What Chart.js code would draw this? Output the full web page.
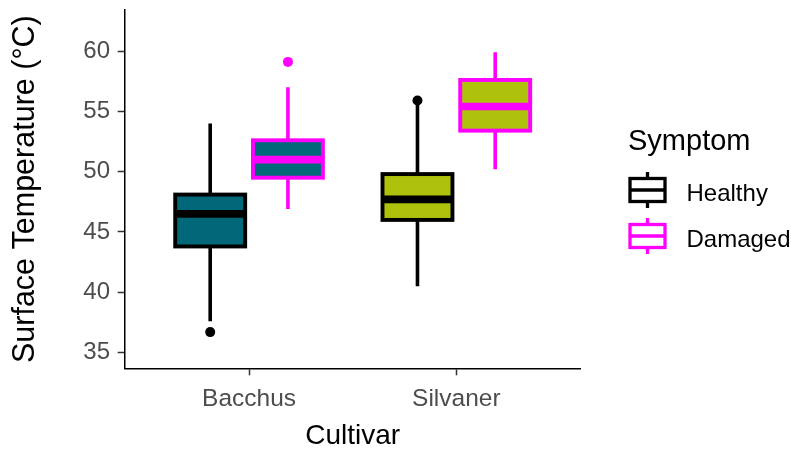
<!DOCTYPE html>
<html>
<head>
<meta charset="utf-8">
<script src="https://cdn.jsdelivr.net/npm/chart.js@4.4.1/dist/chart.umd.min.js"></script>
<style>
  html, body { margin: 0; padding: 0; background: #ffffff; }
  #wrap { width: 791px; height: 450px; }
</style>
</head>
<body>
<div id="wrap"><canvas id="c" width="791" height="450"></canvas></div>
<script>
// ---------- data ----------
const categories = ['Bacchus', 'Silvaner'];
const seriesNames = ['Healthy', 'Damaged'];
const yTicks = [35, 40, 45, 50, 55, 60];

const healthyLow  = [37.6, 40.5];
const healthyQ1   = [43.8, 46.0];
const healthyMed  = [46.5, 47.7];
const healthyQ3   = [48.1, 49.8];
const healthyHigh = [54.0, 55.6];
const healthyOut  = [[36.7], [55.9]];

const damagedLow  = [46.9, 50.2];
const damagedQ1   = [49.5, 53.4];
const damagedMed  = [51.0, 55.4];
const damagedQ3   = [52.6, 57.6];
const damagedHigh = [57.0, 59.9];
const damagedOut  = [[59.1], []];

// ---------- styles ----------
const cultivarFill = ['#006879', '#AEC10B'];
const seriesLine = ['#000000', '#FF00FF'];
const FONT = "'Liberation Sans', Arial, Helvetica, sans-serif";

function boxData(q1, q3) {
  return categories.map((c, i) => ({ x: i + 1, y: [q1[i], q3[i]] }));
}

const datasets = [
  { label: seriesNames[0], data: boxData(healthyQ1, healthyQ3),
    backgroundColor: cultivarFill, borderWidth: 0, lineColor: seriesLine[0],
    stats: { low: healthyLow, q1: healthyQ1, med: healthyMed, q3: healthyQ3, high: healthyHigh, out: healthyOut } },
  { label: seriesNames[1], data: boxData(damagedQ1, damagedQ3),
    backgroundColor: cultivarFill, borderWidth: 0, lineColor: seriesLine[1],
    stats: { low: damagedLow, q1: damagedQ1, med: damagedMed, q3: damagedQ3, high: damagedHigh, out: damagedOut } }
];

// ---------- boxplot decoration plugin (whiskers, outline, median, outliers) ----------
const boxPlugin = {
  id: 'boxDecor',
  afterDatasetsDraw(chart) {
    const ctx = chart.ctx;
    const ys = chart.scales.y;
    chart.data.datasets.forEach((ds, di) => {
      const meta = chart.getDatasetMeta(di);
      meta.data.forEach((el, i) => {
        const { x, width } = el.getProps(['x', 'width'], true);
        const st = ds.stats;
        const left = x - width / 2, right = x + width / 2;
        const yQ1 = ys.getPixelForValue(st.q1[i]);
        const yQ3 = ys.getPixelForValue(st.q3[i]);
        const yMed = ys.getPixelForValue(st.med[i]);
        const yLo = ys.getPixelForValue(st.low[i]);
        const yHi = ys.getPixelForValue(st.high[i]);
        ctx.save();
        ctx.strokeStyle = ds.lineColor;
        ctx.fillStyle = ds.lineColor;
        ctx.lineCap = 'butt';
        ctx.lineWidth = 3.6;
        // whiskers
        ctx.beginPath();
        ctx.moveTo(x, yQ3); ctx.lineTo(x, yHi);
        ctx.moveTo(x, yQ1); ctx.lineTo(x, yLo);
        ctx.stroke();
        // outline
        ctx.lineJoin = 'miter';
        ctx.lineWidth = 3.9;
        ctx.strokeRect(left, yQ3, right - left, yQ1 - yQ3);
        // median
        ctx.lineWidth = 7.6;
        ctx.beginPath();
        ctx.moveTo(left, yMed); ctx.lineTo(right, yMed);
        ctx.stroke();
        // outliers
        st.out[i].forEach(v => {
          ctx.beginPath();
          ctx.arc(x, ys.getPixelForValue(v), 5, 0, Math.PI * 2);
          ctx.fill();
        });
        ctx.restore();
      });
    });
  }
};

// ---------- legend plugin ----------
const legendPlugin = {
  id: 'boxLegend',
  afterDraw(chart) {
    const ctx = chart.ctx;
    ctx.save();
    ctx.fillStyle = '#000';
    ctx.textBaseline = 'alphabetic';
    ctx.textAlign = 'left';
    ctx.font = '29px ' + FONT;
    ctx.fillText('Symptom', 628, 150);
    chart.data.datasets.forEach((ds, i) => {
      const cx = 647.5, cy = 190 + 46 * i;
      ctx.strokeStyle = ds.lineColor;
      ctx.lineWidth = 3.3;
      ctx.strokeRect(cx - 17.5, cy - 11.5, 35, 23);
      ctx.beginPath();
      ctx.moveTo(cx - 17.5, cy); ctx.lineTo(cx + 17.5, cy);
      ctx.moveTo(cx, cy - 11.5); ctx.lineTo(cx, cy - 18);
      ctx.moveTo(cx, cy + 11.5); ctx.lineTo(cx, cy + 18);
      ctx.stroke();
      ctx.fillStyle = '#000';
      ctx.font = '24px ' + FONT;
      ctx.fillText(ds.label, 686.5, cy + 10.5);
    });
    ctx.restore();
  }
};

new Chart(document.getElementById('c'), {
  type: 'bar',
  data: { datasets },
  options: {
    responsive: false,
    animation: false,
    devicePixelRatio: 1,
    datasets: { bar: { categoryPercentage: 0.75, barPercentage: 0.9, borderSkipped: false } },
    layout: { padding: { left: 0, right: 210.3, top: 10, bottom: 0 } },
    plugins: { legend: { display: false }, tooltip: { enabled: false } },
    scales: {
      x: {
        type: 'linear', min: 0.4, max: 2.6, offset: false,
        afterBuildTicks(scale) { scale.ticks = categories.map((c, i) => ({ value: i + 1 })); },
        afterFit(scale) { scale.height = 81.7; scale.paddingLeft = 0; scale.paddingRight = 0; },
        ticks: {
          callback: (v) => categories[Math.round(v) - 1],
          color: '#4D4D4D', font: { family: FONT, size: 24.5 }, padding: 9, maxRotation: 0, autoSkip: false
        },
        grid: { display: true, offset: false, drawOnChartArea: false, drawTicks: true, tickLength: 7, tickColor: '#333', tickWidth: 1.5 },
        border: { display: true, color: '#000', width: 1.5 },
        title: { display: true, text: 'Cultivar', color: '#000', font: { family: FONT, size: 28, lineHeight: 1.0 }, padding: { top: 0, bottom: 0 } }
      },
      y: {
        type: 'linear', min: 33.7, max: 63.4,
        afterBuildTicks(scale) { scale.ticks = yTicks.map(v => ({ value: v })); },
        afterFit(scale) { scale.width = 124.7; scale.paddingTop = 0; scale.paddingBottom = 0; },
        ticks: { color: '#4D4D4D', font: { family: FONT, size: 24 }, padding: 7.7, autoSkip: false },
        grid: { display: true, drawOnChartArea: false, drawTicks: true, tickLength: 7, tickColor: '#333', tickWidth: 1.5 },
        border: { display: true, color: '#000', width: 1.5 },
        title: { display: true, text: 'Surface Temperature (°C)', color: '#000', font: { family: FONT, size: 30.5, lineHeight: 1.2 }, padding: { top: 7.5, bottom: 0 } }
      }
    }
  },
  plugins: [boxPlugin, legendPlugin]
});
</script>
</body>
</html>
